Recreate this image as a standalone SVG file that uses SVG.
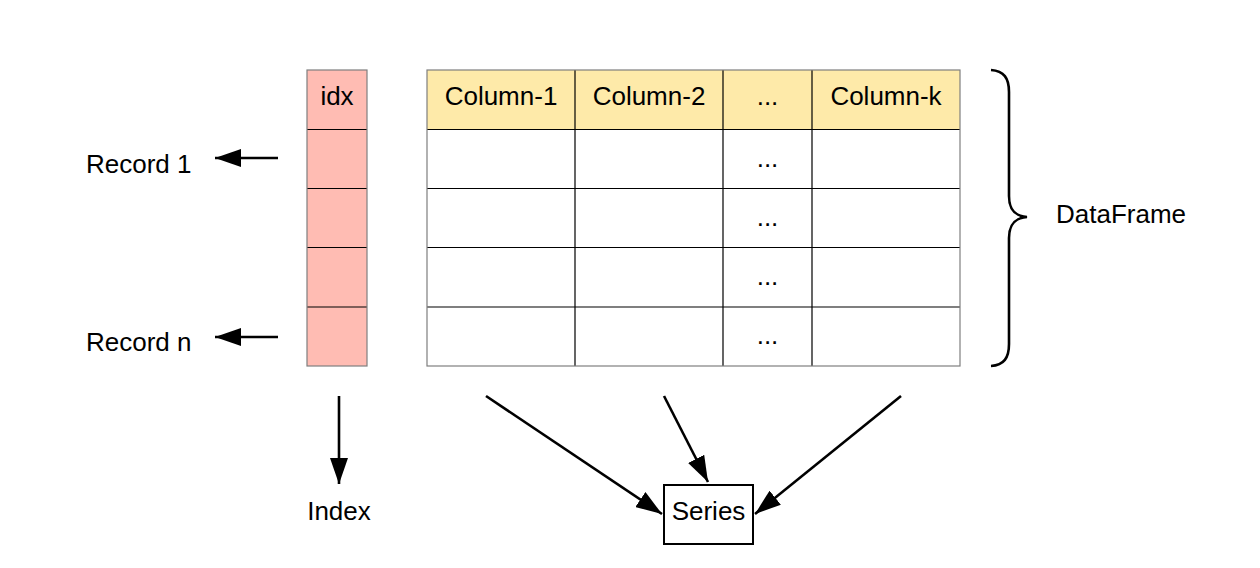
<svg xmlns="http://www.w3.org/2000/svg" width="1260" height="568" viewBox="0 0 1260 568">
<style>
text{font-family:"Liberation Sans",Arial,sans-serif;font-size:26px;fill:#000}
.c{text-anchor:middle}
.grid{stroke:#000;stroke-width:1.2;fill:none}
.outer{stroke:#7f7f7f;stroke-width:1.2;fill:none}
.conn{stroke:#000;stroke-width:2.6;fill:none}
</style>
<defs>
<marker id="a" viewBox="0 0 26 18" refX="26" refY="9" markerWidth="26" markerHeight="18" markerUnits="userSpaceOnUse" orient="auto">
<path d="M0,0 L26,9 L0,18 z" fill="#000"/>
</marker>
</defs>
<rect width="1260" height="568" fill="#fff"/>
<g id="index-column">
<rect x="307" y="70" width="60" height="296" fill="#ffbcb3"/>
<path class="grid" d="M307,129.5H367M307,188.5H367M307,247.5H367M307,307H367"/>
<rect class="outer" x="307" y="70" width="60" height="296"/>
<text class="c" x="337" y="105">idx</text>
</g>
<g id="table">
<rect x="427" y="70" width="533" height="59.5" fill="#feeaa9"/>
<path class="grid" d="M427,129.5H960M427,188.5H960M427,247.5H960M427,307H960M575,70V366M723,70V366M812,70V366"/>
<rect class="outer" x="427" y="70" width="533" height="296"/>
<text class="c" x="501" y="105">Column-1</text>
<text class="c" x="649" y="105">Column-2</text>
<text class="c" x="767.5" y="105">...</text>
<text class="c" x="886" y="105">Column-k</text>
<text class="c" x="767.5" y="167">...</text>
<text class="c" x="767.5" y="226">...</text>
<text class="c" x="767.5" y="285">...</text>
<text class="c" x="767.5" y="344">...</text>
</g>
<g id="dataframe-brace">
<path class="conn" d="M991,70 C1004,71 1009,78 1009,92 V196 C1009,210 1015,216 1027,217 C1015,218 1009,224 1009,238 V344 C1009,358 1004,365 991,366"/>
<text x="1056" y="223">DataFrame</text>
</g>
<g id="record-labels">
<text x="86" y="173">Record 1</text>
<text x="86" y="351">Record n</text>
</g>
<g id="index-label"><text class="c" x="339" y="520">Index</text></g>
<g id="series">
<rect x="664" y="485" width="89" height="59" fill="#fff" stroke="#000" stroke-width="2"/>
<text class="c" x="708.5" y="520">Series</text>
</g>
<g id="connectors">
<line class="conn" x1="278" y1="158" x2="215" y2="158" marker-end="url(#a)"/>
<line class="conn" x1="278" y1="337" x2="215" y2="337" marker-end="url(#a)"/>
<line class="conn" x1="339" y1="396" x2="339" y2="484" marker-end="url(#a)"/>
<line class="conn" x1="486" y1="396" x2="662" y2="514" marker-end="url(#a)"/>
<line class="conn" x1="664" y1="396" x2="708" y2="482" marker-end="url(#a)"/>
<line class="conn" x1="901" y1="396" x2="755" y2="514" marker-end="url(#a)"/>
</g>
</svg>
